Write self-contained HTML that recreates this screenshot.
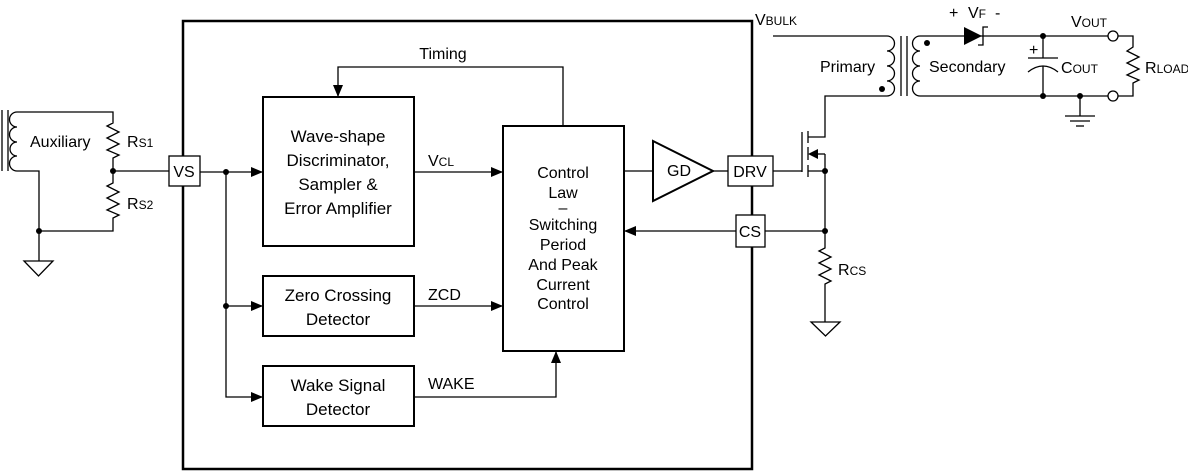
<!DOCTYPE html>
<html><head><meta charset="utf-8"><style>
html,body{margin:0;padding:0;background:#fff}
svg{display:block}
text{font-family:"Liberation Sans",sans-serif;font-size:16px;fill:#000}
.b{font-size:17px}
</style></head><body>
<svg width="1188" height="473" viewBox="0 0 1188 473">
<defs>
<marker id="a" markerWidth="12" markerHeight="10" refX="11" refY="5" orient="auto" markerUnits="userSpaceOnUse"><path d="M0,0 L12,5 L0,10 z" fill="#000"/></marker>
</defs>
<g fill="none" stroke="#000" stroke-width="1.3">
<rect x="183" y="21" width="569" height="448" stroke-width="2.5"/>
<rect x="263" y="97" width="151" height="149" stroke-width="2"/>
<rect x="263" y="276" width="151" height="60" stroke-width="2"/>
<rect x="263" y="366" width="151" height="60" stroke-width="2"/>
<rect x="503" y="126" width="121" height="225" stroke-width="2"/>
<rect x="169" y="156" width="31" height="30" fill="#fff"/>
<rect x="728" y="156" width="45" height="30" fill="#fff"/>
<rect x="736" y="215" width="29" height="32" fill="#fff"/>
<line x1="200" y1="172" x2="262" y2="172" marker-end="url(#a)"/>
<polyline points="226,172 226,397 262,397" marker-end="url(#a)"/>
<line x1="226" y1="306" x2="262" y2="306" marker-end="url(#a)"/>
<line x1="414" y1="172" x2="502" y2="172" marker-end="url(#a)"/>
<line x1="414" y1="306" x2="502" y2="306" marker-end="url(#a)"/>
<polyline points="414,397 556,397 556,352" marker-end="url(#a)"/>
<polyline points="563,126 563,67 338,67 338,96" marker-end="url(#a)"/>
<line x1="736" y1="231" x2="625" y2="231" marker-end="url(#a)"/>
<line x1="624" y1="171" x2="653" y2="171"/>
<polygon points="653,141 713,171 653,201" stroke-width="2"/>
<line x1="713" y1="171" x2="728" y2="171"/>
<line x1="2" y1="110" x2="2" y2="171"/><line x1="8" y1="110" x2="8" y2="171"/>
<path d="M17,112 a5,5 0 0 0 0,15 a5,5 0 0 0 0,15 a5,5 0 0 0 0,14 a5,5 0 0 0 0,15"/>
<polyline points="17,112 113,112 113,123 107,126 119,132 107,138 119,144 107,150 119,155 113,158 113,183 107,186 119,192 107,198 119,204 107,210 119,215 113,218 113,231 39,231"/>
<polyline points="17,171 39,171 39,261"/>
<line x1="113" y1="171" x2="169" y2="171"/>
<polygon points="24,261 53,261 38.5,276"/>
<polyline points="773,36 887,36"/>
<path d="M887,36 a5,5 0 0 1 0,15 a5,5 0 0 1 0,15 a5,5 0 0 1 0,15 a5,5 0 0 1 0,15"/>
<line x1="901" y1="36" x2="901" y2="96"/><line x1="907" y1="36" x2="907" y2="96"/>
<path d="M920,36 a5,5 0 0 0 0,15 a5,5 0 0 0 0,15 a5,5 0 0 0 0,15 a5,5 0 0 0 0,15"/>
<polyline points="920,36 1108,36"/>
<polyline points="920,96 1108,96"/>
<polyline points="1118,36 1133,36 1133,47 1127,51 1139,57 1127,63 1139,69 1127,75 1139,80 1133,83 1133,96 1118,96"/>
<circle cx="1113" cy="36" r="5" fill="#fff"/><circle cx="1113" cy="96" r="5" fill="#fff"/>
<polyline points="1043,36 1043,58"/><line x1="1028" y1="58" x2="1058" y2="58"/>
<path d="M1028,72 Q1043,60 1058,72"/><line x1="1043" y1="66" x2="1043" y2="96"/>
<polyline points="978,45 983,45 983,27 988,27"/>
<line x1="1080" y1="96" x2="1080" y2="116"/>
<line x1="1065" y1="116" x2="1095" y2="116"/><line x1="1070" y1="121" x2="1090" y2="121"/><line x1="1076" y1="126" x2="1084" y2="126"/>
<polyline points="887,96 825,96 825,137 808,137"/>
<line x1="808" y1="131" x2="808" y2="143"/><line x1="808" y1="147" x2="808" y2="160"/><line x1="808" y1="165" x2="808" y2="177"/>
<line x1="802" y1="132" x2="802" y2="172"/>
<line x1="773" y1="171" x2="802" y2="171"/>
<polyline points="825,154 816,154"/>
<polyline points="808,171 825,171"/>
<polyline points="825,154 825,248 819,251 831,257 819,263 831,269 819,275 831,281 825,284 825,322"/>
<line x1="765" y1="231" x2="825" y2="231"/>
<polygon points="811,322 840,322 825.5,336"/>
</g>
<g fill="#000">
<polygon points="964,27 982,36 964,45"/>
<polygon points="808,154 818,149 818,159"/>
<circle cx="226" cy="172" r="3"/><circle cx="226" cy="306" r="3"/>
<circle cx="113" cy="171" r="3"/><circle cx="39" cy="231" r="3"/>
<circle cx="882" cy="89" r="3"/><circle cx="927" cy="43" r="3"/>
<circle cx="1043" cy="36" r="3"/><circle cx="1043" cy="96" r="3"/><circle cx="1080" cy="96" r="3"/>
<circle cx="825" cy="171" r="3"/><circle cx="825" cy="231" r="3"/>
</g>
<g text-anchor="middle">
<text class="b" x="338" y="142">Wave-shape</text>
<text class="b" x="338" y="166">Discriminator,</text>
<text class="b" x="338" y="190">Sampler &amp;</text>
<text class="b" x="338" y="214">Error Amplifier</text>
<text class="b" x="338" y="301">Zero Crossing</text>
<text class="b" x="338" y="325">Detector</text>
<text class="b" x="338" y="391">Wake Signal</text>
<text class="b" x="338" y="415">Detector</text>
<text x="563" y="178">Control</text>
<text x="563" y="198">Law</text>
<text x="563" y="213">–</text>
<text x="563" y="230">Switching</text>
<text x="563" y="250">Period</text>
<text x="563" y="270">And Peak</text>
<text x="563" y="290">Current</text>
<text x="563" y="309">Control</text>
<text x="443" y="59">Timing</text>
<text x="184" y="177">VS</text>
<text x="750" y="177">DRV</text>
<text x="750" y="237">CS</text>
<text x="679" y="176" font-size="13">GD</text>
</g>
<text x="428" y="166">V<tspan font-size="12">CL</tspan></text>
<text x="428" y="300">ZCD</text>
<text x="428" y="389">WAKE</text>
<text x="30" y="147">Auxiliary</text>
<text x="127" y="147">R<tspan font-size="12">S1</tspan></text>
<text x="127" y="209">R<tspan font-size="12">S2</tspan></text>
<text x="755" y="25">V<tspan font-size="12">BULK</tspan></text>
<text x="820" y="72">Primary</text>
<text x="929" y="72">Secondary</text>
<text x="949" y="18">+</text>
<text x="968" y="18">V<tspan font-size="12">F</tspan></text>
<text x="995" y="18">-</text>
<text x="1029" y="55" font-size="13">+</text>
<text x="1061" y="73">C<tspan font-size="12">OUT</tspan></text>
<text x="1071" y="27">V<tspan font-size="12">OUT</tspan></text>
<text x="1145" y="73">R<tspan font-size="12">LOAD</tspan></text>
<text x="838" y="275">R<tspan font-size="12">CS</tspan></text>
</svg>
</body></html>
